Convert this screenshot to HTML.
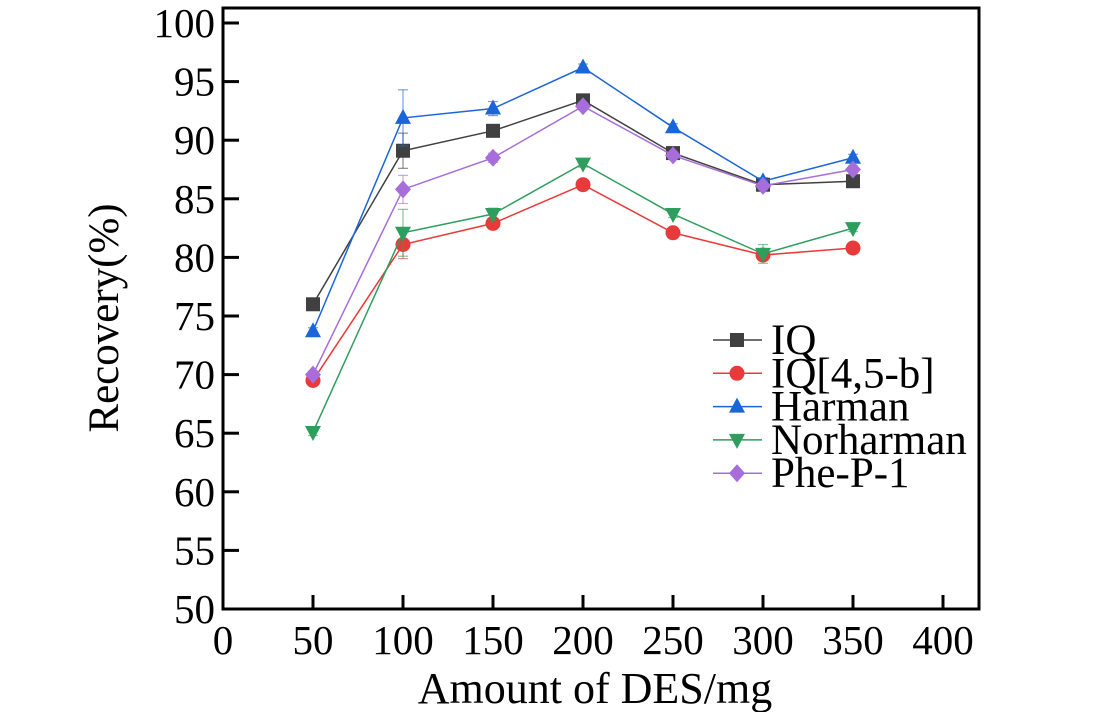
<!DOCTYPE html>
<html><head><meta charset="utf-8"><style>
body{margin:0;background:#fff}
svg text{font-family:"Liberation Serif",serif;fill:#000}
</style></head><body>
<svg id="c" width="1102" height="712" xmlns="http://www.w3.org/2000/svg"></svg>
<script>
const xCats=[50,100,150,200,250,300,350];
const xTicks=[0,50,100,150,200,250,300,350,400];
const yTicks=[50,55,60,65,70,75,80,85,90,95,100];
const seriesNames=["IQ","IQ[4,5-b]","Harman","Norharman","Phe-P-1"];
const iqVals=[76.0,89.1,90.8,93.4,88.9,86.2,86.5];
const iq45Vals=[69.5,81.1,82.9,86.2,82.1,80.2,80.8];
const harmanVals=[73.7,91.9,92.7,96.2,91.1,86.5,88.5];
const norharmanVals=[65.1,82.1,83.7,88.0,83.7,80.3,82.5];
const phepVals=[70.0,85.8,88.5,92.9,88.7,86.1,87.5];
const iqErr=[0.3,1.5,0.5,0.3,0.3,0.3,0.3];
const iq45Err=[0.3,1.2,0.4,0.3,0.3,0.3,0.3];
const harmanErr=[0.3,2.4,0.6,0.3,0.3,0.3,0.3];
const norharmanErr=[0.3,2.0,0.5,0.3,0.3,0.8,0.3];
const phepErr=[0.3,1.2,0.4,0.3,0.3,0.3,0.3];
const colors=["#404040","#e83a3a","#1a66d9","#2e9e5e","#a66ddb"];
const shapes=["square","circle","up","down","diamond"];
const NS="http://www.w3.org/2000/svg";
const svg=document.getElementById('c');
const L=223,R=979,T=8,B=609;
const xs=v=>L+v*1.8;
const ys=v=>B-(v-50)*11.72;
function mk(t,a,p){const e=document.createElementNS(NS,t);for(const k in a)e.setAttribute(k,a[k]);(p||svg).appendChild(e);return e;}
function marker(s,x,y,c,g){
 if(s==="square")return mk('rect',{x:x-7,y:y-7,width:14,height:14,fill:c},g);
 if(s==="circle")return mk('circle',{cx:x,cy:y,r:7.5,fill:c},g);
 if(s==="up")return mk('polygon',{points:`${x},${y-9} ${x-8},${y+6} ${x+8},${y+6}`,fill:c},g);
 if(s==="down")return mk('polygon',{points:`${x},${y+9} ${x-8},${y-6} ${x+8},${y-6}`,fill:c},g);
 return mk('polygon',{points:`${x},${y-9} ${x+8},${y} ${x},${y+9} ${x-8},${y}`,fill:c},g);
}
const fr=mk('rect',{x:L,y:T,width:R-L,height:B-T,fill:'none',stroke:'#000','stroke-width':3});

yTicks.forEach(v=>{
 const y=ys(v);
 const t=mk('line',{x1:L,x2:L+16,y1:y,y2:y,stroke:'#000','stroke-width':3});
 
 const tx=mk('text',{x:L-8,y:y+14,'font-size':41,'text-anchor':'end'});tx.textContent=v;
 
});
xTicks.forEach(v=>{
 const x=xs(v);
 const t=mk('line',{x1:x,x2:x,y1:B,y2:B-14,stroke:'#000','stroke-width':3});
 
 const tx=mk('text',{x:x,y:B+45,'font-size':41,'text-anchor':'middle'});tx.textContent=v;
 
});
const xt=mk('text',{x:595,y:703,'font-size':44,'text-anchor':'middle'});xt.textContent="Amount of DES/mg";

const yt=mk('text',{x:0,y:0,'font-size':43,'text-anchor':'middle',transform:'translate(118,318) rotate(-90)'});yt.textContent="Recovery(%)";

const allVals=[iqVals,iq45Vals,harmanVals,norharmanVals,phepVals];
const allErr=[iqErr,iq45Err,harmanErr,norharmanErr,phepErr];
allVals.forEach((vals,i)=>{
 const g=mk('g',{});
 
 
 vals.forEach((v,j)=>{
  const x=xs(xCats[j]),e=allErr[i][j];
  mk('line',{x1:x,x2:x,y1:ys(v-e),y2:ys(v+e),stroke:colors[i],'stroke-width':1.2,opacity:0.6},g);
  mk('line',{x1:x-5,x2:x+5,y1:ys(v+e),y2:ys(v+e),stroke:colors[i],'stroke-width':1.2,opacity:0.6},g);
  mk('line',{x1:x-5,x2:x+5,y1:ys(v-e),y2:ys(v-e),stroke:colors[i],'stroke-width':1.2,opacity:0.6},g);
 });
 mk('polyline',{points:vals.map((v,j)=>xs(xCats[j])+','+ys(v)).join(' '),fill:'none',stroke:colors[i],'stroke-width':1.5},g);
 vals.forEach((v,j)=>{const m=marker(shapes[i],xs(xCats[j]),ys(v),colors[i],g);
  });
 const ly=340+i*33.3;
 const lg=mk('g',{});
 
 mk('line',{x1:713,x2:762,y1:ly,y2:ly,stroke:colors[i],'stroke-width':1.5},lg);
 marker(shapes[i],737,ly,colors[i],lg);
 const lt=mk('text',{x:771,y:ly+14,'font-size':43},lg);lt.textContent=seriesNames[i];
});
</script>
</body></html>
